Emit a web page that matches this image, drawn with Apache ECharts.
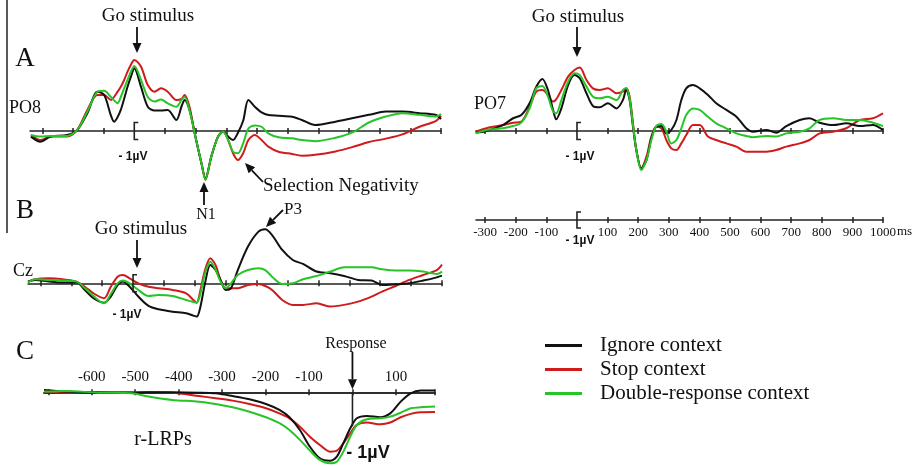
<!DOCTYPE html>
<html>
<head>
<meta charset="utf-8">
<title>ERP waveforms by context</title>
<script src="https://cdn.jsdelivr.net/npm/echarts@6.0.0/dist/echarts.min.js"></script>
<style>html,body{margin:0;padding:0;background:#fff;}</style>
</head>
<body>
<div id="main" style="width:920px;height:466px;"></div>
<script>
// ---- data (ms, µV) ----
var conditions = ['Ignore context', 'Stop context', 'Double-response context'];

var po8Time = [-337, -306, -273, -219, -186, -153, -120, -98, -76, -66, -55, -44, -33, -22, -11, 0, 22, 44, 66, 87, 109, 137, 155, 164, 180, 197, 219, 232, 251, 273, 290, 306, 322, 338, 355, 372, 393, 415, 437, 470, 514, 546, 590, 656, 710, 765, 820, 874, 930, 984, 1000];
var po8Ignore = [-0.33, -0.63, -0.33, -0.24, 0.06, 1.04, 2.31, 2.12, 0.9, 0.55, 0.8, 1.24, 1.9, 2.6, 3.2, 3.69, 2.6, 1.43, 1.2, 1.2, 1.24, 0.65, 1.5, 1.82, 1.24, -0.14, -1.9, -2.78, -1.51, -0.33, -0.04, -0.33, -0.53, -0.1, 0.6, 1.82, 1.43, 1.1, 0.94, 0.9, 0.84, 0.65, 0.35, 0.55, 0.75, 0.95, 1.14, 1.14, 1.05, 0.94, 0.7];
var po8Stop = [-0.24, -0.53, -0.33, -0.33, 0.06, 1.24, 2.12, 2.12, 1.82, 2.0, 2.3, 2.6, 3.0, 3.49, 3.9, 4.18, 3.78, 2.7, 2.31, 2.51, 2.31, 1.82, 1.9, 2.12, 1.43, -0.14, -1.9, -2.88, -1.51, -0.33, -0.04, -0.53, -1.31, -1.71, -1.31, -0.53, -0.24, -0.53, -0.92, -1.22, -1.35, -1.45, -1.4, -1.2, -0.95, -0.65, -0.45, -0.2, 0.25, 0.6, 0.9];
var po8Double = [-0.24, -0.33, -0.29, -0.29, 0.06, 1.14, 2.31, 2.37, 2.0, 1.8, 1.63, 2.0, 2.51, 3.0, 3.49, 3.82, 3.0, 2.0, 1.73, 1.86, 1.63, 1.43, 1.86, 2.0, 1.24, -0.14, -1.9, -2.84, -1.51, -0.33, -0.04, -0.53, -1.22, -1.31, -0.73, 0.15, 0.33, 0.25, -0.14, -0.37, -0.43, -0.53, -0.6, -0.4, -0.1, 0.5, 0.85, 1.05, 0.95, 0.85, 1.0];

var po7Time = [-331, -296, -242, -209, -182, -155, -133, -113, -95, -78, -68, -51, -29, -8, 9, 31, 52, 74, 101, 129, 150, 161, 172, 183, 194, 210, 227, 243, 259, 276, 292, 308, 325, 341, 357, 379, 401, 428, 455, 488, 521, 553, 575, 619, 651, 684, 728, 760, 793, 837, 880, 924, 967, 1000];
var po7Ignore = [-0.1, 0.0, 0.35, 0.75, 0.94, 1.63, 2.6, 3.06, 2.41, 1.24, 0.69, 1.33, 2.7, 3.29, 3.1, 2.22, 1.47, 1.39, 1.63, 1.33, 1.82, 2.45, 1.82, 0.25, -1.12, -2.2, -1.71, -0.43, 0.25, 0.29, -0.14, 0.06, 0.65, 1.82, 2.51, 2.7, 2.51, 2.12, 1.63, 1.24, 0.84, 0.16, -0.04, 0.06, -0.1, 0.29, 0.65, 0.75, 0.49, 0.35, 0.45, 0.29, 0.35, 0.06];
var po7Stop = [-0.04, 0.16, 0.35, 0.49, 0.55, 1.43, 2.31, 2.41, 2.12, 1.73, 1.86, 2.41, 3.2, 3.59, 3.73, 3.0, 2.51, 2.41, 2.51, 2.22, 2.31, 2.51, 2.02, 0.45, -1.12, -2.2, -1.51, -0.33, 0.25, 0.16, -0.53, -1.02, -1.12, -0.73, -0.24, 0.35, 0.35, -0.33, -0.53, -0.73, -0.92, -1.22, -1.22, -1.22, -1.12, -0.92, -0.73, -0.53, -0.14, -0.04, 0.16, 0.65, 0.75, 1.04];
var po7Double = [-0.14, 0.06, 0.16, 0.29, 0.49, 1.33, 2.51, 2.65, 2.02, 1.14, 1.04, 1.82, 2.9, 3.39, 3.29, 2.61, 2.02, 1.92, 2.02, 1.82, 2.41, 2.51, 1.9, 0.35, -1.12, -2.29, -1.71, -0.53, 0.29, 0.41, -0.04, -0.73, -0.53, 0.16, 0.94, 1.33, 1.24, 0.84, 0.45, 0.16, -0.14, -0.29, -0.37, -0.29, -0.33, -0.14, -0.04, 0.16, 0.65, 0.75, 0.65, 0.65, 0.49, 0.29];

var czTime = [-340, -317, -272, -228, -183, -156, -128, -94, -72, -50, -33, -11, 17, 50, 83, 128, 172, 195, 206, 217, 233, 250, 267, 283, 300, 317, 339, 372, 406, 428, 450, 483, 517, 550, 594, 639, 683, 728, 772, 806, 850, 894, 939, 983, 1000];
var czIgnore = [0.1, 0.2, 0.1, 0.04, 0.04, -0.39, -0.88, -1.14, -0.78, -0.1, 0.1, -0.2, -0.78, -1.33, -1.53, -1.67, -1.76, -1.9, -1.96, -1.47, 0, 1.08, 0.78, 0.2, -0.39, -0.29, 0.78, 2.16, 3.04, 3.18, 2.84, 1.96, 1.37, 1.14, 0.69, 0.59, 0.43, 0.2, 0.16, -0.1, -0.06, 0, 0.16, 0.35, 0.45];
var czStop = [0.1, 0.24, 0.29, 0.24, 0.1, -0.2, -0.59, -0.88, -0.2, 0.39, 0.49, 0.29, 0, -0.2, -0.29, -0.39, -0.59, -0.98, -1.14, -0.49, 0.78, 1.47, 1.08, 0.2, -0.29, -0.29, -0.29, -0.1, -0.04, -0.16, -0.39, -0.98, -1.27, -1.27, -1.18, -1.37, -1.27, -1.08, -0.78, -0.49, -0.16, 0.2, 0.49, 0.78, 1.1];
var czDouble = [0.04, 0.24, 0.2, 0.16, 0.1, -0.29, -0.75, -1.18, -0.63, 0, 0.16, 0, -0.39, -0.75, -0.69, -0.75, -0.98, -1.1, -1.14, -0.69, 0.59, 1.27, 0.82, 0.1, -0.29, 0, 0.49, 0.78, 0.88, 0.78, 0.39, -0.04, 0, 0.24, 0.43, 0.69, 0.94, 0.94, 0.94, 0.82, 0.75, 0.75, 0.69, 0.55, 0.69];

var lrpTime = [-710, -662, -585, -508, -470, -415, -353, -315, -276, -237, -199, -168, -145, -121, -98, -75, -52, -36, -21, -5, 10, 33, 64, 87, 111, 134, 157, 190];
var lrpIgnore = [0.14, 0.04, -0.02, -0.02, 0, 0, -0.02, -0.06, -0.22, -0.41, -0.69, -1.04, -1.47, -2.22, -3.2, -3.88, -4.02, -3.78, -3.0, -2.12, -1.53, -1.39, -1.47, -1.24, -0.55, -0.06, 0.1, 0.1];
var lrpStop = [0.04, -0.02, 0.02, 0, 0, -0.02, -0.22, -0.35, -0.49, -0.69, -0.94, -1.24, -1.53, -2.02, -2.61, -3.1, -3.49, -3.43, -3.0, -2.41, -1.92, -1.78, -1.88, -1.78, -1.47, -1.27, -1.18, -1.16];
var lrpDouble = [0.04, 0.08, -0.02, -0.06, -0.25, -0.45, -0.55, -0.69, -0.88, -1.14, -1.47, -1.82, -2.22, -2.8, -3.43, -3.98, -4.18, -4.08, -3.49, -2.61, -1.92, -1.59, -1.53, -1.43, -1.2, -0.94, -0.88, -0.84];

var stimTicks = [-300, -200, -100, 100, 200, 300, 400, 500, 600, 700, 800, 900, 1000];
var stimTickLabels = [-300, -200, -100, 100, 200, 300, 400, 500, 600, 700, 800, 900, 1000];
var respTicks = [-700, -600, -500, -400, -300, -200, -100, 0, 100, 190];
var respTickLabels = [-600, -500, -400, -300, -200, -100, 100];

// ---- chart ----
var serif = '"Liberation Serif", "Times New Roman", serif';
var sans = '"Liberation Sans", Arial, sans-serif';
var ink = '#111';
var colors = ['#111111', '#cf1b1b', '#27c427'];

var chart = echarts.init(document.getElementById('main'));

var grids = [
    { left: 30, top: 46, width: 411, height: 153 },    // 0 PO8
    { left: 476, top: 46, width: 407, height: 153 },   // 1 PO7
    { left: 476, top: 200, width: 407, height: 20 },   // 2 PO7 time scale
    { left: 28, top: 215.3, width: 414, height: 119 }, // 3 Cz
    { left: 44, top: 375.3, width: 391, height: 90.1 },// 4 r-LRP
    { left: 44, top: 392.3, width: 391, height: 10 }   // 5 r-LRP tick labels
];
var yRanges = [[-4, 5], [-4, 5], [0, 1], [-3, 4], [-4.3, 1], [0, 1]];
var xRanges = [[-340, 1000], [-330, 1000], [-330, 1000], [-340, 1000], [-710, 190], [-710, 190]];

// one axis carries the line, ticks on one side and labels; a twin draws the ticks on the other side
function axisPair(g, ticks, labels, labelPos, onZero) {
    var pair = [];
    [labelPos, labelPos === 'top' ? 'bottom' : 'top'].forEach(function (pos, k) {
        pair.push({
            type: 'value',
            gridIndex: g,
            position: pos,
            min: xRanges[g][0],
            max: xRanges[g][1],
            splitLine: { show: false },
            axisLine: {
                show: k === 0,
                onZero: onZero,
                onZeroAxisIndex: g,
                lineStyle: { color: '#222', width: 1.5 }
            },
            axisTick: {
                show: onZero || k === 0,
                customValues: ticks,
                length: 3,
                lineStyle: { color: '#222', width: 1.5 }
            },
            axisLabel: (k === 0 && labels) ? {
                customValues: labels,
                margin: labelPos === 'top' ? 8 : 6,
                fontFamily: serif,
                fontSize: labelPos === 'top' ? 15 : 13,
                color: ink,
                formatter: function (v) { return String(v); }
            } : { show: false }
        });
    });
    return pair;
}

var xAxes = []
    .concat(axisPair(0, stimTicks, null, 'bottom', true))
    .concat(axisPair(1, stimTicks, null, 'bottom', true))
    .concat(axisPair(2, stimTicks, stimTickLabels, 'bottom', true))
    .concat(axisPair(3, stimTicks, null, 'bottom', true))
    .concat(axisPair(4, respTicks, null, 'bottom', true))
    .concat(axisPair(5, respTicks, respTickLabels, 'top', false));

var yAxes = yRanges.map(function (r, i) {
    return { type: 'value', gridIndex: i, min: r[0], max: r[1], show: false };
});

function wave(cond, g, times, values) {
    var c = conditions.indexOf(cond);
    return {
        name: cond,
        type: 'line',
        xAxisIndex: g * 2,
        yAxisIndex: g,
        symbol: 'none',
        smooth: 0.3,
        silent: true,
        z: [3, 2, 4][c],
        lineStyle: { color: colors[c], width: 2 },
        itemStyle: { color: colors[c] },
        data: times.map(function (t, i) { return [t, values[i]]; })
    };
}

var series = [
    wave('Stop context', 0, po8Time, po8Stop),
    wave('Ignore context', 0, po8Time, po8Ignore),
    wave('Double-response context', 0, po8Time, po8Double),
    wave('Stop context', 1, po7Time, po7Stop),
    wave('Ignore context', 1, po7Time, po7Ignore),
    wave('Double-response context', 1, po7Time, po7Double),
    wave('Stop context', 3, czTime, czStop),
    wave('Ignore context', 3, czTime, czIgnore),
    wave('Double-response context', 3, czTime, czDouble),
    wave('Stop context', 4, lrpTime, lrpStop),
    wave('Ignore context', 4, lrpTime, lrpIgnore),
    wave('Double-response context', 4, lrpTime, lrpDouble)
];

chart.setOption({
    animation: false,
    backgroundColor: '#fff',
    textStyle: { fontFamily: serif },
    grid: grids,
    xAxis: xAxes,
    yAxis: yAxes,
    legend: {
        orient: 'vertical',
        left: 545,
        top: 335,
        padding: 0,
        icon: 'rect',
        itemWidth: 37,
        itemHeight: 3,
        itemGap: 3,
        selectedMode: false,
        data: conditions,
        textStyle: { fontFamily: serif, fontSize: 21, lineHeight: 20, color: ink, padding: [0, 0, 0, 13] }
    },
    series: series
});

// ---- annotations ----
function txt(text, x, y, size, extra) {
    var style = { text: text, fontSize: size, fontFamily: serif, fill: ink, align: 'center', verticalAlign: 'middle' };
    for (var k in extra) style[k] = extra[k];
    return { type: 'text', x: x, y: y, silent: true, z: 50, style: style };
}
function scaleLabel(x, y, size) {
    return txt('- 1\u00b5V', x, y, size, { fontFamily: sans, fontWeight: 'bold' });
}
function arrow(x1, y1, x2, y2) {
    var a = Math.atan2(y2 - y1, x2 - x1), L = 10, W = 4.5;
    var bx = x2 - L * Math.cos(a), by = y2 - L * Math.sin(a);
    var px = -Math.sin(a) * W, py = Math.cos(a) * W;
    return [
        { type: 'line', silent: true, z: 50, shape: { x1: x1, y1: y1, x2: bx, y2: by }, style: { stroke: ink, lineWidth: 1.8 } },
        { type: 'polygon', silent: true, z: 50, shape: { points: [[x2, y2], [bx + px, by + py], [bx - px, by - py]] }, style: { fill: ink } }
    ];
}
function bracket(g, halfPx) {
    var c = chart.convertToPixel({ gridIndex: g }, [0, 0]);
    var h = halfPx;
    if (h == null) {
        var t = chart.convertToPixel({ gridIndex: g }, [0, 0.5]);
        h = c[1] - t[1];
    }
    return {
        type: 'polyline', silent: true, z: 50,
        shape: { points: [[c[0] + 4, c[1] - h], [c[0], c[1] - h], [c[0], c[1] + h], [c[0] + 4, c[1] + h]] },
        style: { stroke: '#222', lineWidth: 1.6, fill: null }
    };
}

var lrp0 = chart.convertToPixel({ gridIndex: 4 }, [0, 0]);
var lrp1 = chart.convertToPixel({ gridIndex: 4 }, [0, -2]);

var g = [
    { type: 'line', silent: true, shape: { x1: 7, y1: 0, x2: 7, y2: 233 }, style: { stroke: '#222', lineWidth: 1.5 } },
    txt('A', 25, 59, 27),
    txt('B', 25, 211, 27),
    txt('C', 25, 352, 27),
    txt('PO8', 25, 108, 18),
    txt('PO7', 490, 104, 18),
    txt('Cz', 23, 271, 18),
    txt('r-LRPs', 163, 440, 20),
    txt('Go stimulus', 148, 16, 19),
    txt('Go stimulus', 578, 17, 19),
    txt('Go stimulus', 141, 229, 19),
    txt('Selection Negativity', 263, 186, 19, { align: 'left' }),
    txt('N1', 206, 215, 16),
    txt('P3', 293, 210, 17),
    txt('Response', 356, 344, 16),
    txt('ms', 897, 232, 13, { align: 'left' }),
    scaleLabel(133, 157, 12),
    scaleLabel(580, 157, 12),
    scaleLabel(580, 241, 12),
    scaleLabel(127, 315, 12),
    scaleLabel(368, 453, 18),
    bracket(0), bracket(1), bracket(3), bracket(2, 8),
    { type: 'line', silent: true, z: 50, shape: { x1: lrp0[0], y1: lrp0[1], x2: lrp1[0], y2: lrp1[1] }, style: { stroke: '#222', lineWidth: 1.6 } }
]
    .concat(arrow(137, 27, 137, 53))
    .concat(arrow(577, 27, 577, 57))
    .concat(arrow(137, 240, 137, 268))
    .concat(arrow(204, 205, 204, 182))
    .concat(arrow(263, 182, 245, 163))
    .concat(arrow(283, 210, 266, 227))
    .concat(arrow(lrp0[0], 352, lrp0[0], lrp0[1] - 3));

chart.setOption({ graphic: g });
</script>
</body>
</html>
